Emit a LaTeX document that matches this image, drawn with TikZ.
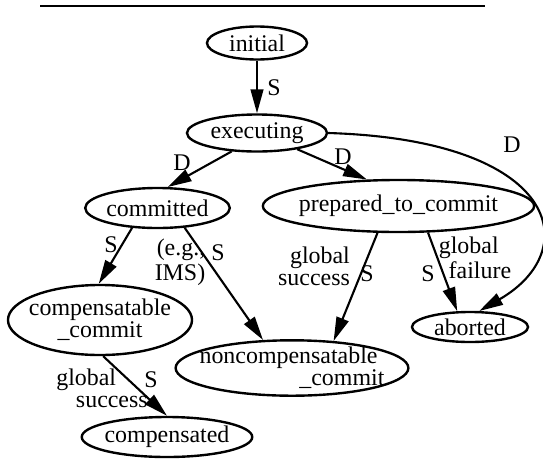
\documentclass[tikz,border=0pt]{standalone}
\usepackage{fontspec}
\setmainfont{Liberation Serif}
\usepackage{tikz}
\usetikzlibrary{shapes.geometric,arrows.meta}
\tikzset{
    state-node/.style = {draw, ellipse, line width=1.7pt, inner sep=0pt, font=\fontsize{17}{14}\selectfont},
    trans-arrow/.style = {-{Triangle[length=17pt,width=9pt]}, line width=1.5pt},
    edge-label/.style = {inner sep=0pt, font=\fontsize{17}{15.5}\selectfont},
    edge-label-loose/.style = {edge-label, font=\fontsize{17}{17.5}\selectfont},
}

\begin{document}
\begin{tikzpicture}[x=0.025cm, y=-0.025cm]
\useasboundingbox (0,0) rectangle (543,460);
\draw[line width=1.8pt] (40,6) -- (485,6);

% states
\node[state-node, minimum width=2.5cm, minimum height=0.825cm] (initial) at (257,43) {initial};
\node[state-node, minimum width=3.5cm, minimum height=0.925cm] (executing) at (257,133) {executing};
\node[state-node, minimum width=3.575cm, minimum height=1cm] (committed) at (157.5,208) {committed};
\node[state-node, minimum width=6.675cm, minimum height=1.3cm, inner xsep=-2.6pt] (prepared) at (398.5,206) {prepared\_to\_commit};
\node[state-node, minimum width=4.6cm, minimum height=1.75cm, inner xsep=-4.4pt, align=center] (compensatable) at (100,320) {compensatable\\\_commit};
\node[state-node, minimum width=5.8cm, minimum height=1.325cm, inner xsep=-7.2pt, inner ysep=-1pt, align=left, font=\fontsize{17}{12.5}\selectfont] (noncompensatable) at (292,368) {noncompensatable\\\hspace{71pt}\_commit};
\node[state-node, minimum width=2.9cm, minimum height=0.75cm] (aborted) at (470,327) {aborted};
\node[state-node, minimum width=4.175cm, minimum height=1cm, inner xsep=-1.5pt] (compensated) at (167,437) {compensated};

% transitions
\draw[trans-arrow] (initial.south) -- (executing.north);
\draw[trans-arrow] (executing.-144) -- (committed.64);
\draw[trans-arrow] (executing.-22) -- (prepared.140);
\draw[trans-arrow] (executing.east) .. controls (560,140) and (585,250) .. (aborted.60);
\draw[trans-arrow] (committed.-142) -- (compensatable.92);
\draw[trans-arrow] (committed.-36) -- (noncompensatable.136);
\draw[trans-arrow] (prepared.-128) -- (noncompensatable.33);
\draw[trans-arrow] (prepared.-42) -- (aborted.129);
\draw[trans-arrow] (compensatable.-85) -- (compensated.north);

% labels
\node[edge-label] (s-init) at (274,88) {S};
\node[edge-label] (d-comm) at (182,163) {D};
\node[edge-label] (d-prep) at (343,157) {D};
\node[edge-label] (d-abort) at (512,145) {D};
\node[edge-label] (s-comp) at (111,245) {S};
\node[edge-label-loose, align=right] (eg-ims) at (180,262) {(e.g.,\hspace{10pt}\\IMS)};
\node[edge-label] (s-noncomp) at (218,253) {S};
\node[edge-label, align=right] (gs-prep) at (314,266) {global\\success\hspace{3pt}};
\node[edge-label] (s-prep) at (367,274) {S};
\node[edge-label] (s-abort) at (428,274) {S};
\node[edge-label-loose, align=left] (gf-prep) at (475,258) {global\\\hspace{7pt}failure};
\node[edge-label, align=left] (gs-comp) at (102,388) {global\\\hspace{14pt}success};
\node[edge-label] (s-compd) at (151,380) {S};
\end{tikzpicture}
\end{document}
